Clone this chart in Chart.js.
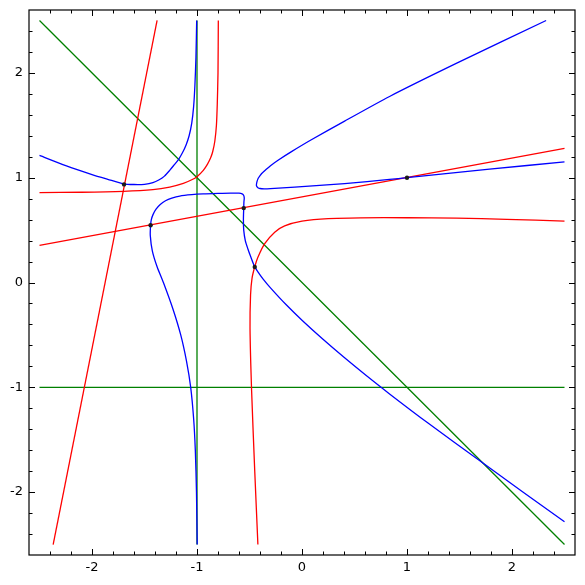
<!DOCTYPE html>
<html>
<head>
<meta charset="utf-8">
<script src="https://cdn.jsdelivr.net/npm/chart.js@4"></script>
<style>
  html, body { margin: 0; padding: 0; background: #fff; }
  #wrap { width: 585px; height: 585px; }
</style>
</head>
<body>
<div id="wrap"><canvas id="plot" width="585" height="585"></canvas></div>
<script>
// axis ticks
const majorTicks = [-2, -1, 0, 1, 2];
const minorStep = 0.2;

// green lines
const greenVertical = [[-1, -2.5], [-1, 2.5]];
const greenHorizontal = [[-2.5, -1], [2.5, -1]];
const greenDiagonal = [[-2.5, 2.5], [2.5, -2.5]];

// red lines and curves
const redSteep = [[-2.37, -2.5], [-1.38, 2.5]];
const redShallow = [[-2.5, 0.355], [2.5, 1.279]];
const redUpper = [[-2.5, 0.858], [-2.1, 0.861], [-1.7, 0.87], [-1.42, 0.886], [-1.26, 0.91],
  [-1.13, 0.945], [-1.05, 0.98], [-1.0, 1.01], [-0.94, 1.07], [-0.9, 1.13], [-0.87, 1.19],
  [-0.85, 1.25], [-0.83, 1.35], [-0.815, 1.5], [-0.807, 1.7], [-0.8, 2.0], [-0.797, 2.5]];
const redLower = [[-0.42, -2.5], [-0.45, -1.8], [-0.48, -1.03], [-0.495, -0.44], [-0.49, -0.12],
  [-0.476, 0.04], [-0.45, 0.15], [-0.42, 0.24], [-0.355, 0.37], [-0.26, 0.48], [-0.165, 0.54],
  [0.0, 0.585], [0.25, 0.61], [0.56, 0.617], [1.0, 0.618], [1.47, 0.614], [1.95, 0.603], [2.5, 0.585]];

// blue curve branches
const blueUpperLeft = [[-2.5, 1.212], [-2.25, 1.115], [-2.0, 1.03], [-1.85, 0.985], [-1.7, 0.942],
  [-1.6, 0.935], [-1.5, 0.937], [-1.42, 0.952], [-1.36, 0.98], [-1.31, 1.015], [-1.26, 1.07],
  [-1.215, 1.125], [-1.175, 1.175], [-1.14, 1.235], [-1.105, 1.31], [-1.075, 1.4], [-1.05, 1.52],
  [-1.032, 1.68], [-1.02, 1.88], [-1.01, 2.15], [-1.003, 2.5]];
const blueMiddle = [[-0.998, -2.5], [-1.005, -2.0], [-1.016, -1.6], [-1.032, -1.3], [-1.06, -1.0],
  [-1.1, -0.75], [-1.155, -0.5], [-1.23, -0.25], [-1.32, 0.0], [-1.38, 0.15], [-1.425, 0.3],
  [-1.445, 0.45], [-1.442, 0.546], [-1.435, 0.6], [-1.418, 0.65], [-1.39, 0.7], [-1.35, 0.745],
  [-1.3, 0.78], [-1.24, 0.805], [-1.164, 0.825], [-1.05, 0.838], [-0.942, 0.845], [-0.8, 0.85],
  [-0.68, 0.853], [-0.6, 0.852], [-0.57, 0.845], [-0.555, 0.83], [-0.55, 0.805], [-0.553, 0.77],
  [-0.555, 0.71], [-0.558, 0.6], [-0.555, 0.5], [-0.54, 0.4], [-0.515, 0.32], [-0.49, 0.25],
  [-0.45, 0.149], [-0.41, 0.088], [-0.37, 0.033], [-0.3, -0.051], [-0.15, -0.213], [0.0, -0.36],
  [0.2, -0.542], [0.4, -0.714], [0.6, -0.878], [0.834, -1.063], [1.2, -1.341], [1.7, -1.705],
  [2.1, -1.997], [2.5, -2.283]];
const blueRight = [[2.325, 2.5], [1.469, 2.09], [0.834, 1.775], [0.406, 1.54], [0.089, 1.362],
  [-0.1, 1.249], [-0.228, 1.167], [-0.3, 1.115], [-0.345, 1.076], [-0.386, 1.038], [-0.4, 1.02],
  [-0.417, 0.995], [-0.43, 0.958], [-0.434, 0.925], [-0.42, 0.905], [-0.4, 0.897], [-0.36, 0.894],
  [-0.3, 0.896], [-0.069, 0.91], [0.406, 0.943], [0.834, 0.983], [1.0, 1.0], [1.786, 1.082],
  [2.5, 1.15]];

// marked points
const markedPoints = [[-1.695, 0.936], [-1.442, 0.546], [-0.555, 0.71], [-0.45, 0.149], [1, 1]];

const toXY = (arr) => arr.map(([x, y]) => ({ x, y }));

function curve(points, color, order, tension) {
  return {
    data: toXY(points),
    showLine: true,
    borderColor: color,
    borderWidth: 1.3,
    pointRadius: 0,
    tension: tension || 0,
    order: order,
  };
}

// frame, inward ticks and labels
const framePlugin = {
  id: "frame",
  afterDraw(chart) {
    const { ctx, chartArea: a, scales } = chart;
    const sx = scales.x, sy = scales.y;
    ctx.save();
    ctx.strokeStyle = "#000";
    ctx.lineWidth = 1.2;
    ctx.strokeRect(a.left, a.top, a.right - a.left, a.bottom - a.top);
    ctx.lineWidth = 1;
    for (let k = -12; k <= 12; k++) {
      const v = k * minorStep;
      const len = k % 5 === 0 ? 6 : 3.5;
      const px = Math.round(sx.getPixelForValue(v)) + 0.5;
      const py = Math.round(sy.getPixelForValue(v)) + 0.5;
      ctx.beginPath();
      ctx.moveTo(px, a.bottom); ctx.lineTo(px, a.bottom - len);
      ctx.moveTo(px, a.top); ctx.lineTo(px, a.top + len);
      ctx.moveTo(a.left, py); ctx.lineTo(a.left + len, py);
      ctx.moveTo(a.right, py); ctx.lineTo(a.right - len, py);
      ctx.stroke();
    }
    ctx.fillStyle = "#000";
    ctx.font = "13px 'DejaVu Sans'";
    ctx.textAlign = "center";
    ctx.textBaseline = "middle";
    majorTicks.forEach((v) => {
      ctx.fillText(String(v), sx.getPixelForValue(v), a.bottom + 13);
    });
    ctx.textAlign = "right";
    majorTicks.forEach((v) => {
      ctx.fillText(String(v), a.left - 6, sy.getPixelForValue(v));
    });
    ctx.restore();
  },
};

new Chart(document.getElementById("plot"), {
  type: "scatter",
  data: {
    datasets: [
      {
        data: toXY(markedPoints),
        pointRadius: 2.2,
        pointBackgroundColor: "#1a1a1a",
        pointBorderWidth: 0,
        showLine: false,
        order: 0,
      },
      curve(blueUpperLeft, "#0000ff", 1, 0.25),
      curve(blueMiddle, "#0000ff", 1, 0.25),
      curve(blueRight, "#0000ff", 1, 0.25),
      curve(redUpper, "#ff0000", 2, 0.25),
      curve(redLower, "#ff0000", 2, 0.25),
      curve(redSteep, "#ff0000", 2),
      curve(redShallow, "#ff0000", 2),
      curve(greenVertical, "#008000", 3),
      curve(greenHorizontal, "#008000", 3),
      curve(greenDiagonal, "#008000", 3),
    ],
  },
  options: {
    responsive: false,
    animation: false,
    events: [],
    layout: { padding: { left: 29, right: 10, top: 10, bottom: 30 } },
    scales: {
      x: { type: "linear", min: -2.6, max: 2.6, display: false },
      y: { type: "linear", min: -2.6, max: 2.6, display: false },
    },
    plugins: {
      legend: { display: false },
      tooltip: { enabled: false },
    },
  },
  plugins: [framePlugin],
});
</script>
</body>
</html>
